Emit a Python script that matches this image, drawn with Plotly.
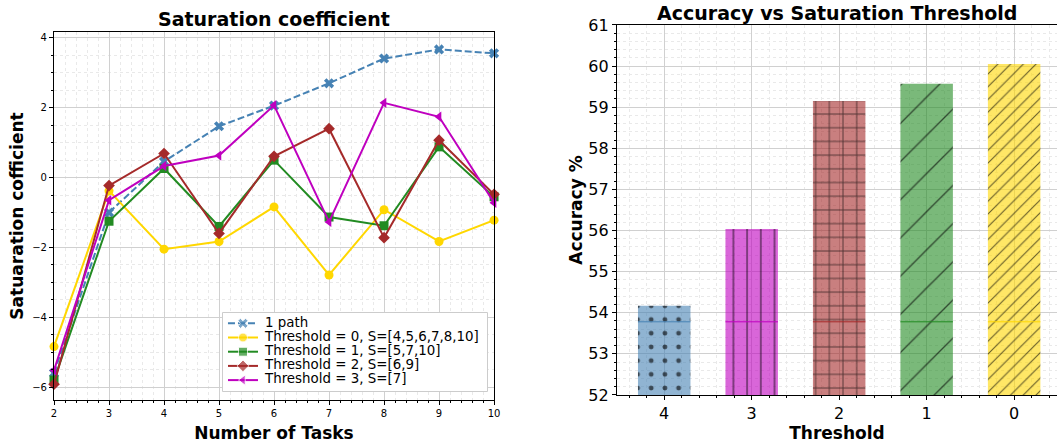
import plotly.graph_objects as go

# ---- data: saturation coefficient per number of tasks ----
tasks = [2, 3, 4, 5, 6, 7, 8, 9, 10]
one_path = [-5.6, -1.0, 0.46, 1.47, 2.06, 2.70, 3.41, 3.67, 3.56]
thr0 = [-4.84, -0.38, -2.05, -1.83, -0.84, -2.79, -0.92, -1.83, -1.22]
thr1 = [-5.8, -1.25, 0.26, -1.40, 0.50, -1.13, -1.38, 0.88, -0.55]
thr2 = [-5.92, -0.23, 0.69, -1.60, 0.61, 1.40, -1.72, 1.07, -0.48]
thr3 = [-5.52, -0.65, 0.33, 0.63, 2.07, -1.27, 2.14, 1.74, -0.72]

# ---- data: accuracy per saturation threshold ----
thresholds = ["4", "3", "2", "1", "0"]
accuracy = [54.17, 56.04, 59.15, 59.57, 60.05]
reference_acc = 53.78

FONT = "DejaVu Sans"
fig = go.Figure()

line_series = [
    ("1 path", one_path, "steelblue", "x", "7px,3px"),
    ("Threshold = 0, S=[4,5,6,7,8,10]", thr0, "gold", "circle", "solid"),
    ("Threshold = 1, S=[5,7,10]", thr1, "forestgreen", "square", "solid"),
    ("Threshold = 2, S=[6,9]", thr2, "brown", "diamond", "solid"),
    ("Threshold = 3, S=[7]", thr3, "#bf00bf", "triangle-left", "solid"),
]
for name, vals, col, sym, dash in line_series:
    fig.add_trace(go.Scatter(
        x=tasks, y=vals, name=name, mode="lines+markers",
        line=dict(color=col, width=2, dash=dash),
        marker=dict(symbol=sym, size=9, color=col),
        xaxis="x", yaxis="y", cliponaxis=False, showlegend=False,
    ))

# bars with hatch patterns
bar_colors = ["rgba(70,130,180,0.6)", "rgba(191,0,191,0.6)", "rgba(165,42,42,0.6)",
              "rgba(34,139,34,0.6)", "rgba(255,215,0,0.6)"]
line_colors = ["steelblue", "#bf00bf", "brown", "forestgreen", "gold"]
patterns = [(".", 13.7, 0.1), ("|", 13.7, 0.1), ("+", 13.7, 0.13), ("/", 27, 0.05), ("/", 9, 0.12)]
positions = list(range(len(thresholds)))
bar_w = 0.6
for i, (pos, val) in enumerate(zip(positions, accuracy)):
    shp, sz, sol = patterns[i]
    fig.add_trace(go.Bar(
        x=[pos], y=[val - 52], base=52, width=bar_w,
        marker=dict(color=bar_colors[i], line=dict(width=0),
                    pattern=dict(shape=shp, size=sz, solidity=sol,
                                 fgcolor="rgba(0,0,0,0.6)", fgopacity=1,
                                 bgcolor=bar_colors[i], fillmode="replace")),
        xaxis="x2", yaxis="y2", showlegend=False,
    ))
    fig.add_trace(go.Scatter(
        x=[pos - bar_w / 2, pos + bar_w / 2], y=[reference_acc, reference_acc],
        mode="lines", line=dict(color=line_colors[i], width=1),
        xaxis="x2", yaxis="y2", showlegend=False,
    ))

# legend panel for the line chart (drawn on its own hidden axes, pixel units)
LEG_W, LEG_H = 266, 80
ROW0, ROW_STEP = 11.3, 14.2
fig.add_trace(go.Scatter(
    x=[0.5, LEG_W - 0.5, LEG_W - 0.5, 0.5, 0.5], y=[0.5, 0.5, LEG_H - 0.5, LEG_H - 0.5, 0.5],
    mode="lines", fill="toself", fillcolor="rgba(255,255,255,0.8)",
    line=dict(color="#cccccc", width=1), xaxis="x3", yaxis="y3",
    showlegend=False, hoverinfo="skip",
))
for i, (name, vals, col, sym, dash) in enumerate(line_series):
    row_y = ROW0 + ROW_STEP * i
    fig.add_trace(go.Scatter(
        x=[6, 21, 36], y=[row_y] * 3, mode="lines+markers",
        line=dict(color=col, width=2, dash=dash),
        marker=dict(symbol=sym, size=[0, 9, 0], color=col),
        xaxis="x3", yaxis="y3", showlegend=False, hoverinfo="skip",
    ))
legend_rows = [ROW0 + ROW_STEP * i for i in range(len(line_series))]
fig.add_trace(go.Scatter(
    x=[43] * len(line_series), y=legend_rows, mode="text",
    text=[s[0] for s in line_series], textposition="middle right",
    textfont=dict(size=13.4, family=FONT, color="black"),
    xaxis="x3", yaxis="y3", showlegend=False, hoverinfo="skip", cliponaxis=False,
))

grid_major = "#d0d0d0"
grid_minor = "#e9e9e9"
common = dict(showline=True, linecolor="black", linewidth=1.2, mirror=True,
              ticks="outside", ticklen=4, tickcolor="black", automargin=False,
              showgrid=True, gridcolor=grid_major, gridwidth=1, zeroline=False)
minor_common = dict(ticks="outside", ticklen=2, tickcolor="black", showgrid=True,
                    gridcolor=grid_minor, griddash="3px,3px")

annotations = [
    dict(text="<b>Saturation coefficient</b>", x=0.2593, y=0.987, xref="paper", yref="paper",
         xanchor="center", yanchor="top", showarrow=False, font=dict(size=19)),
    dict(text="<b>Accuracy vs Saturation Threshold</b>", x=0.7918, y=1.0, xref="paper",
         yref="paper", xanchor="center", yanchor="top", showarrow=False, font=dict(size=19)),
]

fig.update_layout(
    width=1057, height=443,
    margin=dict(l=0, r=0, t=0, b=0, autoexpand=False),
    paper_bgcolor="white", plot_bgcolor="white",
    font=dict(family=FONT, color="black"),
    barmode="overlay", showlegend=False,
    xaxis=dict(domain=[0.0511, 0.4674], range=[2, 10], dtick=1, anchor="y",
               tickfont=dict(size=10),
               title=dict(text="<b>Number of Tasks</b>", font=dict(size=17), standoff=10),
               minor=dict(dtick=0.2, **minor_common), **common),
    yaxis=dict(domain=[0.0971, 0.9278], range=[-6.37, 4.17], tickvals=[-6, -4, -2, 0, 2, 4],
               ticktext=["\u22126", "\u22124", "\u22122", "0", "2", "4"], anchor="x",
               tickfont=dict(size=10),
               title=dict(text="<b>Satuaration cofficient</b>", font=dict(size=17), standoff=4),
               minor=dict(dtick=0.5, **minor_common), **common),
    xaxis2=dict(domain=[0.5837, 1.0], range=[-0.54, 4.49], tickvals=positions,
                ticktext=thresholds, anchor="y2", tickfont=dict(size=16),
                title=dict(text="<b>Threshold</b>", font=dict(size=17), standoff=4),
                minor=dict(dtick=0.2, tick0=0, **minor_common), **common),
    yaxis2=dict(domain=[0.1084, 0.9436], range=[52, 61], dtick=1, anchor="x2",
                tickfont=dict(size=16),
                title=dict(text="<b>Accuracy %</b>", font=dict(size=17), standoff=1),
                minor=dict(dtick=0.2, **minor_common), **common),
    xaxis3=dict(domain=[0.2100, 0.4617], range=[0, LEG_W], visible=False, anchor="y3",
                fixedrange=True),
    yaxis3=dict(domain=[0.1151, 0.2957], range=[LEG_H, 0], visible=False, anchor="x3",
                fixedrange=True),
    annotations=annotations,
)

fig.write_html("out.html")
